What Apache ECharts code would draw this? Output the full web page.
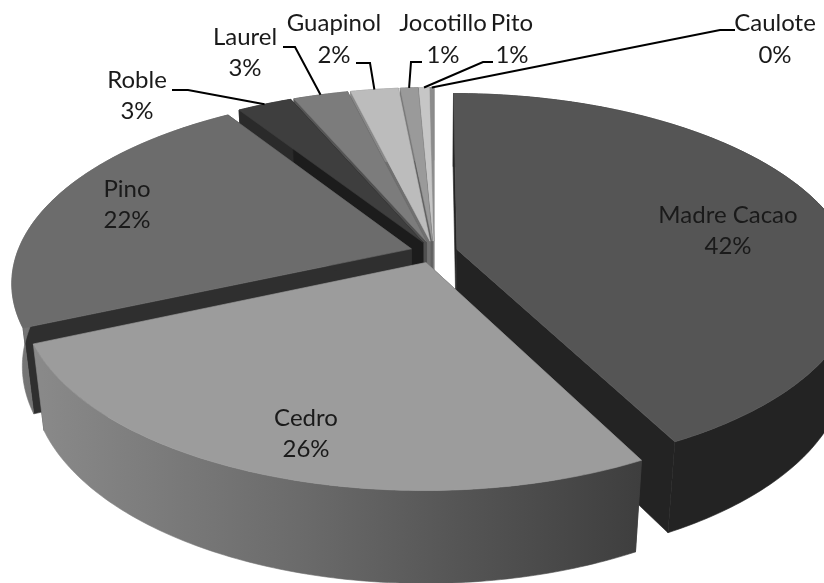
<!DOCTYPE html>
<html><head><meta charset="utf-8">
<style>html,body{margin:0;padding:0;background:#fff}#c{width:824px;height:583px}</style>
<script src="https://cdn.jsdelivr.net/npm/echarts@6/dist/echarts.min.js"></script>
</head><body><div id="c"></div>
<script>
const categories = ['Madre Cacao','Cedro','Pino','Roble','Laurel','Guapinol','Jocotillo','Pito','Caulote'];
const shares = [42.4,26.0,22.45,2.65,2.65,2.3,0.85,0.5,0.2];
const percentLabels = ['42%','26%','22%','3%','3%','2%','1%','1%','0%'];

const topColors = ['#555555','#9c9c9c','#6c6c6c','#3e3e3e','#7c7c7c','#bcbcbc','#9a9a9a','#c6c6c6','#8c8c8c'];
const cutColors = ['#232323','#3e3e3e','#2f2f2f','#1c1c1c','#505050','#707070','#606060','#808080','#666666'];
const wallStops = [
  [[0,'#232323'],[1,'#232323']],
  [[0,'#8a8a8a'],[0.45,'#6a6a6a'],[0.7,'#555555'],[1,'#3e3e3e']],
  [[0,'#777777'],[1,'#555555']],
  [[0,'#2a2a2a'],[1,'#2a2a2a']],[[0,'#555'],[1,'#555']],[[0,'#888'],[1,'#888']],
  [[0,'#777'],[1,'#777']],[[0,'#999'],[1,'#999']],[[0,'#777'],[1,'#777']]
];
// Label layout: text centre [x, y1, y2] and leader elbow points (pixels)
const labelPos = [[728,215,246],[306,418,449],[127,189,220],[137,80,111],[245,37,68],[334,23,55],[443,23,55],[512,23,55],[775,23,55]];
const leaderElbows = [null,null,null,[[172,90],[188,90]],[[283,47],[295,47]],[[356,63],[370,63]],[[422,62],[411,62]],[[493,62],[483,62]],[[735,30],[720,30]]];

// projection of the tilted disc
const cx=434, cy=252, R=394, S=184, H=84, p=0.175, q=0.025, EXPL=0.06;
function P(u,v,h){const w=1+p*v+q*h;return [cx+R*u/w, cy+(-S*v+H*h)/w];}

const total = shares.reduce((a,b)=>a+b,0);
const slices=[];let acc=0;
shares.forEach((s,i)=>{const a0=acc/total*2*Math.PI;acc+=s;const a1=acc/total*2*Math.PI;
  const m=(a0+a1)/2;slices.push({i,a0,a1,m,ox:EXPL*Math.sin(m),oy:EXPL*Math.cos(m)});});
const order=slices.slice().sort((a,b)=>Math.cos(b.m)-Math.cos(a.m)).map(s=>s.i);

function rim(sl,h,rev){const n=Math.max(3,Math.ceil((sl.a1-sl.a0)/0.015));const pts=[];
  for(let k=0;k<=n;k++){const a=sl.a0+(sl.a1-sl.a0)*(rev?n-k:k)/n;pts.push(P(sl.ox+Math.sin(a),sl.oy+Math.cos(a),h));}return pts;}
function poly(points,fill,stroke){return {type:'polygon',shape:{points},style:{fill,stroke:stroke||fill,lineWidth:0.6},silent:true};}

function renderSlice(params){
  const sl=slices[order[params.dataIndex]],i=sl.i,kids=[];
  const tip0=P(sl.ox,sl.oy,0),tip1=P(sl.ox,sl.oy,1);
  const e0=[sl.ox+Math.sin(sl.a0),sl.oy+Math.cos(sl.a0)],e1=[sl.ox+Math.sin(sl.a1),sl.oy+Math.cos(sl.a1)];
  const top=rim(sl,0,false),bot=rim(sl,1,true);
  const xs=top.map(t=>t[0]);
  const grad=new echarts.graphic.LinearGradient(Math.min(...xs),0,Math.max(...xs),0,
    wallStops[i].map(s=>({offset:s[0],color:s[1]})),true);
  kids.push(poly([tip0,tip1,P(e0[0],e0[1],1),P(e0[0],e0[1],0)],cutColors[i]));
  kids.push(poly([tip0,tip1,P(e1[0],e1[1],1),P(e1[0],e1[1],0)],cutColors[i]));
  kids.push(poly(top.concat(bot),grad,grad));
  kids.push(poly([tip0].concat(top),topColors[i]));
  return {type:'group',children:kids};
}
function text(t,x,y){return {type:'text',silent:true,style:{text:t,x,y,fill:'#1a1a1a',font:'24px Lato',textAlign:'center',textVerticalAlign:'middle'}};}
function renderLabel(params){
  const i=params.dataIndex,sl=slices[i],kids=[],lp=labelPos[i];
  if(leaderElbows[i]){
    const end=P(sl.ox+Math.sin(sl.m),sl.oy+Math.cos(sl.m),0);
    kids.push({type:'polyline',silent:true,shape:{points:leaderElbows[i].concat([end])},style:{stroke:'#000',lineWidth:2,fill:null}});
  }
  kids.push(text(categories[i],lp[0],lp[1]));
  kids.push(text(percentLabels[i],lp[0],lp[2]));
  return {type:'group',children:kids};
}
const chart=echarts.init(document.getElementById('c'),null,{renderer:'canvas'});
chart.setOption({
  animation:false,backgroundColor:'#fff',
  series:[
    {type:'custom',coordinateSystem:'none',clip:false,renderItem:renderSlice,data:order.map(i=>[shares[i]]),z:2},
    {type:'custom',coordinateSystem:'none',clip:false,renderItem:renderLabel,data:shares.map(v=>[v]),z:3}
  ]
});
</script></body></html>
